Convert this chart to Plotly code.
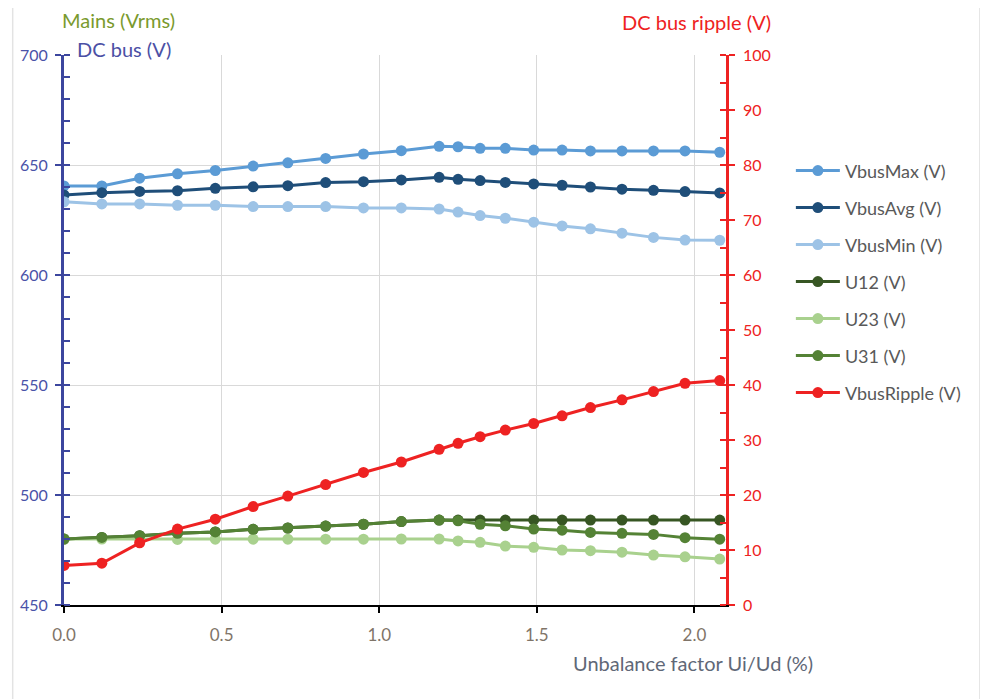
import plotly.graph_objects as go

# Data
x_unbalance = [0.00, 0.12, 0.24, 0.36, 0.48, 0.60, 0.71, 0.83, 0.95, 1.07,
               1.19, 1.25, 1.32, 1.40, 1.49, 1.58, 1.67, 1.77, 1.87, 1.97, 2.08]
vbus_max = [640.5, 640.5, 644.0, 646.0, 647.5, 649.5, 651.0, 653.0, 655.0, 656.5,
            658.5, 658.3, 657.6, 657.6, 656.8, 656.8, 656.4, 656.4, 656.4, 656.4, 655.8]
vbus_avg = [636.4, 637.4, 638.0, 638.3, 639.4, 640.1, 640.6, 642.0, 642.4, 643.2,
            644.4, 643.5, 642.9, 642.1, 641.4, 640.8, 640.0, 639.0, 638.5, 637.9, 637.3]
vbus_min = [633.3, 632.3, 632.3, 631.7, 631.7, 631.1, 631.1, 631.1, 630.5, 630.5,
            630.0, 628.6, 627.0, 625.8, 624.0, 622.3, 621.0, 619.0, 617.1, 615.9, 615.8]
u12 = [480.0, 480.7, 481.5, 482.6, 483.2, 484.4, 485.0, 485.9, 486.7, 487.9,
       488.6, 488.6, 488.6, 488.6, 488.6, 488.6, 488.6, 488.6, 488.6, 488.6, 488.6]
u23 = [480.0, 480.0, 480.0, 479.8, 479.9, 479.9, 479.9, 479.9, 479.9, 480.0,
       480.0, 479.1, 478.5, 476.8, 476.2, 475.0, 474.7, 474.0, 472.7, 471.9, 470.9]
u31 = [480.0, 480.7, 481.5, 482.6, 483.2, 484.4, 485.0, 485.9, 486.7, 487.9,
       488.6, 488.3, 486.7, 486.0, 484.5, 484.0, 483.0, 482.6, 482.1, 480.6, 479.9]
vbus_ripple = [7.2, 7.6, 11.3, 13.8, 15.6, 17.9, 19.8, 21.9, 24.1, 26.0,
               28.3, 29.4, 30.6, 31.8, 33.0, 34.4, 35.9, 37.3, 38.8, 40.3, 40.8]

series_names = ["VbusMax (V)", "VbusAvg (V)", "VbusMin (V)", "U12 (V)", "U23 (V)", "U31 (V)", "VbusRipple (V)"]
series_values = [vbus_max, vbus_avg, vbus_min, u12, u23, u31, vbus_ripple]
series_colors = ["#5B9BD5", "#1F4E79", "#9DC3E6", "#375623", "#A9D18E", "#548235", "#EE2222"]
series_axis = ["y", "y", "y", "y", "y", "y", "y2"]

left_ticks = [450, 500, 550, 600, 650, 700]
right_ticks = [0, 10, 20, 30, 40, 50, 60, 70, 80, 90, 100]
x_ticks = [0.0, 0.5, 1.0, 1.5, 2.0]

FONT = "Lato, 'Open Sans', sans-serif"
BLUE_AX = "#3C469E"
BLUE_TXT = "#4A52A8"
RED = "#EE2222"
GREY_TXT = "#6B6560"

fig = go.Figure()
for i, (name, vals, col, ax) in enumerate(zip(series_names, series_values, series_colors, series_axis)):
    fig.add_trace(go.Scatter(
        x=x_unbalance, y=vals, name=name, yaxis=ax, mode="lines+markers",
        line=dict(color=col, width=3),
        marker=dict(color=col, size=11, symbol="circle"),
        legendgroup=f"g{i}",
    ))

# helper overlay axes to draw the inner half of the major ticks (crossing ticks)
fig.add_trace(go.Scatter(x=[], y=[], yaxis="y3", showlegend=False, hoverinfo="skip"))
fig.add_trace(go.Scatter(x=[], y=[], yaxis="y4", showlegend=False, hoverinfo="skip"))

fig.update_layout(
    width=988, height=699,
    margin=dict(l=56, r=270, t=47, b=102),
    paper_bgcolor="white", plot_bgcolor="white",
    font=dict(family=FONT, size=16, color=GREY_TXT),
    showlegend=True,
    legend=dict(
        x=1.098, y=0.823, xanchor="left", yanchor="top",
        font=dict(family=FONT, size=18, color="#595959"),
        bgcolor="rgba(0,0,0,0)", traceorder="grouped", tracegroupgap=10.6,
        itemwidth=44,
    ),
    xaxis=dict(
        range=[0, 2.1], tickvals=x_ticks, ticktext=[f"{v:.1f}" for v in x_ticks],
        showgrid=True, gridcolor="#D9D9D9", gridwidth=1,
        showline=True, linecolor="#000000", linewidth=2,
        ticks="outside", ticklen=6, tickwidth=2, tickcolor="#000000",
        tickfont=dict(family=FONT, size=17, color="#7F7468"),
        ticklabelstandoff=8, zeroline=False,
    ),
    yaxis=dict(
        range=[450, 700], tickvals=left_ticks,
        showgrid=True, gridcolor="#D9D9D9", gridwidth=1,
        showline=True, linecolor=BLUE_AX, linewidth=3,
        ticks="outside", ticklen=6, tickwidth=2, tickcolor=BLUE_AX,
        minor=dict(dtick=10, ticks="inside", ticklen=6, tickwidth=2, tickcolor=BLUE_AX, showgrid=False),
        tickfont=dict(family=FONT, size=16, color=BLUE_TXT),
        ticklabelstandoff=4, zeroline=False,
    ),
    yaxis2=dict(
        range=[0, 100], tickvals=right_ticks, overlaying="y", side="right",
        showgrid=False, showline=True, linecolor=RED, linewidth=2.5,
        ticks="outside", ticklen=6, tickwidth=2, tickcolor=RED,
        minor=dict(dtick=5, ticks="inside", ticklen=6, tickwidth=2, tickcolor=RED),
        tickfont=dict(family=FONT, size=16, color=RED),
        ticklabelstandoff=5, zeroline=False,
    ),
    yaxis3=dict(
        range=[450, 700], tickvals=left_ticks, overlaying="y", side="left",
        showgrid=False, showline=False, showticklabels=False, zeroline=False,
        ticks="inside", ticklen=6, tickwidth=2, tickcolor=BLUE_AX,
    ),
    yaxis4=dict(
        range=[0, 100], tickvals=right_ticks, overlaying="y", side="right",
        showgrid=False, showline=False, showticklabels=False, zeroline=False,
        ticks="inside", ticklen=6, tickwidth=2, tickcolor=RED,
    ),
)

# Axis titles placed like the original chart
fig.add_annotation(text="Mains (Vrms)", xref="paper", yref="paper", x=-0.006, y=1.063,
                   xanchor="left", yanchor="middle", showarrow=False,
                   font=dict(family=FONT, size=20, color="#7A9A2E"))
fig.add_annotation(text="DC bus (V)", xref="paper", yref="paper", x=0.017, y=1.0105,
                   xanchor="left", yanchor="middle", showarrow=False,
                   font=dict(family=FONT, size=20, color="#4B50A5"))
fig.add_annotation(text="DC bus ripple (V)", xref="paper", yref="paper", x=0.840, y=1.060,
                   xanchor="left", yanchor="middle", showarrow=False,
                   font=dict(family=FONT, size=20, color=RED))
fig.add_annotation(text="Unbalance factor Ui/Ud (%)", xref="paper", yref="paper", x=0.766, y=-0.105,
                   xanchor="left", yanchor="middle", showarrow=False,
                   font=dict(family=FONT, size=20, color="#5F6877"))

# Outer chart frame
fig.add_shape(type="rect", xref="paper", yref="paper",
              x0=-0.0775, x1=1.3835, y0=-0.2, y1=1.0925,
              line=dict(color="#E3E3E3", width=1.5), fillcolor="rgba(0,0,0,0)", layer="below")

fig.write_html("out.html")
